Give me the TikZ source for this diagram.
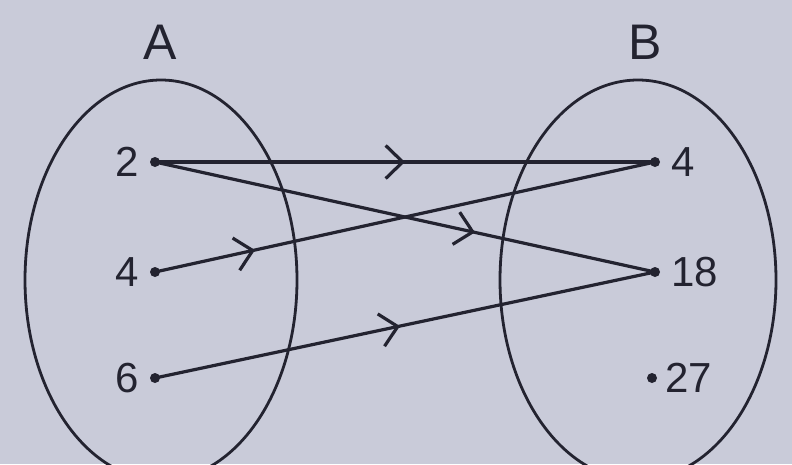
\documentclass[tikz,border=0pt]{standalone}
\usepackage{fontspec}
\setmainfont{Liberation Sans}
\usepackage{tikz}
\usetikzlibrary{arrows.meta,decorations.markings}
\usepackage{xcolor}
\definecolor{paper}{HTML}{C9CBD9}
\definecolor{ink}{HTML}{232330}

\tikzset{
  dot/.style={circle,fill=ink,inner sep=0pt,minimum size=10pt},
  elt/.style={font=\fontsize{42}{48}\selectfont,text=ink,label distance=5pt},
  midarrow/.style={postaction={decorate},decoration={markings,
      mark=at position #1 with {\arrow{Straight Barb[length=17pt,width=33pt]}}}},
}

\begin{document}
\begin{tikzpicture}[x=1pt,y=-1pt,line width=3.2pt,ink]
  \fill[paper] (0,0) rectangle (792,464);
  \useasboundingbox (0,0) rectangle (792,464);
  % the two sets
  \draw[line width=2.8pt] (161,280) ellipse [x radius=136, y radius=200];
  \draw[line width=2.8pt] (638,280) ellipse [x radius=138, y radius=200];
  \node[font=\fontsize{50}{56}\selectfont] (setA) at (160,42) {A};
  \node[font=\fontsize{50}{56}\selectfont] (setB) at (645,42) {B};
  % elements of A
  \node[dot,elt,label={[elt]left:2}] (a2) at (155,162) {};
  \node[dot,elt,label={[elt]left:4}] (a4) at (155,272) {};
  \node[dot,elt,label={[elt]left:6}] (a6) at (155,378) {};
  % elements of B
  \node[dot,elt,label={[elt]right:4}] (b4) at (655,162) {};
  \node[dot,elt,label={[elt]right:18}] (b18) at (655,272) {};
  \node[dot,elt,label={[elt,label distance=2pt]right:27}] (b27) at (652,378) {};
  % the relation
  \draw[midarrow=0.5] (a2.center) -- (b4.center);
  \draw[midarrow=0.64] (a2.center) -- (b18.center);
  \draw[midarrow=0.2] (a4.center) -- (b4.center);
  \draw[midarrow=0.49] (a6.center) -- (b18.center);
\end{tikzpicture}
\end{document}
